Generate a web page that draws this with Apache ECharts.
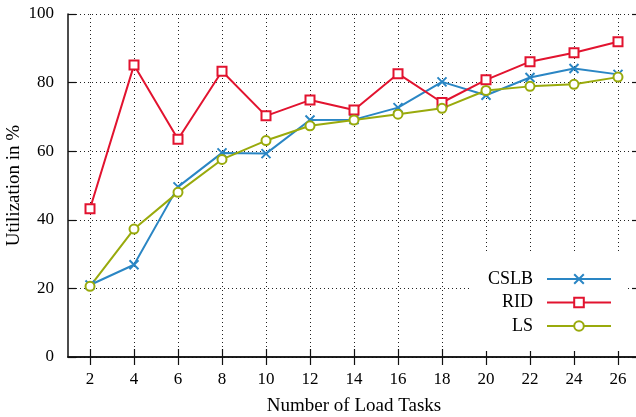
<!DOCTYPE html>
<html>
<head>
<meta charset="utf-8">
<script src="https://cdn.jsdelivr.net/npm/echarts@6/dist/echarts.min.js"></script>
<style>
html,body{margin:0;padding:0;background:#fff;}
#chart{width:636px;height:417px;}
</style>
</head>
<body>
<div id="chart"></div>
<script>
var tasks = [2, 4, 6, 8, 10, 12, 14, 16, 18, 20, 22, 24, 26];
var cslb = [21.0, 26.9, 49.6, 59.5, 59.3, 69.1, 69.2, 72.7, 80.2, 76.3, 81.5, 84.1, 82.4];
var rid  = [43.2, 85.1, 63.5, 83.3, 70.3, 74.9, 72.0, 82.6, 74.2, 80.8, 86.1, 88.7, 91.9];
var ls   = [20.6, 37.3, 48.0, 57.6, 63.1, 67.4, 69.1, 70.8, 72.5, 77.7, 78.9, 79.5, 81.6];
var yTicks = [0, 20, 40, 60, 80, 100];

var colors = {CSLB: '#2a86c4', RID: '#e2132f', LS: '#99aa0c'};
var font = 'Liberation Serif';

function pairs(vals) { return tasks.map(function (t, i) { return [t, vals[i]]; }); }

function mkSeries(name, vals, symbol) {
  var c = colors[name];
  return {
    name: name, type: 'line', data: pairs(vals),
    symbol: symbol, symbolSize: 9,
    lineStyle: {color: c, width: 2},
    itemStyle: {color: c, borderColor: c, borderWidth: 2},
    emphasis: {disabled: true},
    animation: false, z: 3
  };
}

var axisLineStyle = {show: true, lineStyle: {color: '#111', width: 1.5}};
var dotted = {show: true, lineStyle: {color: '#222', type: [1, 3], width: 1}};

var option = {
  backgroundColor: '#fff',
  animation: false,
  grid: {left: 68, right: -4, top: 14, bottom: 60, containLabel: false, outerBoundsMode: 'none'},
  xAxis: [{
    type: 'value', min: 1, max: 27, position: 'bottom',
    name: 'Number of Load Tasks', nameLocation: 'middle', nameGap: 40, nameMoveOverlap: false,
    nameTextStyle: {fontFamily: font, fontSize: 19, color: '#000'},
    axisLine: axisLineStyle,
    axisTick: {show: true, inside: true, length: 8, customValues: tasks, lineStyle: {color: '#111', width: 1.2}},
    axisLabel: {show: true, customValues: tasks, fontFamily: font, fontSize: 17, color: '#000', margin: 14},
    splitLine: dotted
  }, {
    type: 'value', min: 1, max: 27, position: 'top',
    axisLine: axisLineStyle,
    axisTick: {show: true, inside: true, length: 8, customValues: tasks, lineStyle: {color: '#111', width: 1.2}},
    axisLabel: {show: false},
    splitLine: {show: false}
  }],
  yAxis: [{
    type: 'value', min: 0, max: 100, interval: 20, position: 'left',
    name: 'Utilization in %', nameLocation: 'middle', nameGap: 44, nameMoveOverlap: false,
    nameTextStyle: {fontFamily: font, fontSize: 19, color: '#000'},
    axisLine: axisLineStyle,
    axisTick: {show: true, inside: true, length: 8, lineStyle: {color: '#111', width: 1.2}},
    axisLabel: {show: true, customValues: yTicks, fontFamily: font, fontSize: 17, color: '#000', margin: 14},
    splitLine: dotted
  }, {
    type: 'value', min: 0, max: 100, interval: 20, position: 'right',
    axisLine: axisLineStyle,
    axisTick: {show: true, inside: true, length: 8, lineStyle: {color: '#111', width: 1.2}},
    axisLabel: {show: false},
    splitLine: {show: false}
  }],
  legend: {
    orient: 'vertical', right: 9, top: 253,
    align: 'right',
    backgroundColor: '#fff',
    padding: [17, 15, 16, 17],
    itemWidth: 64, itemHeight: 12, itemGap: 5.5,
    formatter: function (n) { return n + '  '; },
    textStyle: {fontFamily: font, fontSize: 18, color: '#000'},
    data: ['CSLB', 'RID', 'LS'],
    z: 10
  },
  series: [
    mkSeries('CSLB', cslb, 'path://M0,0L10,10M0,10L10,0'),
    mkSeries('RID', rid, 'emptyRect'),
    mkSeries('LS', ls, 'emptyCircle')
  ]
};

var chart = echarts.init(document.getElementById('chart'), null, {renderer: 'canvas'});
chart.setOption(option);
</script>
</body>
</html>
